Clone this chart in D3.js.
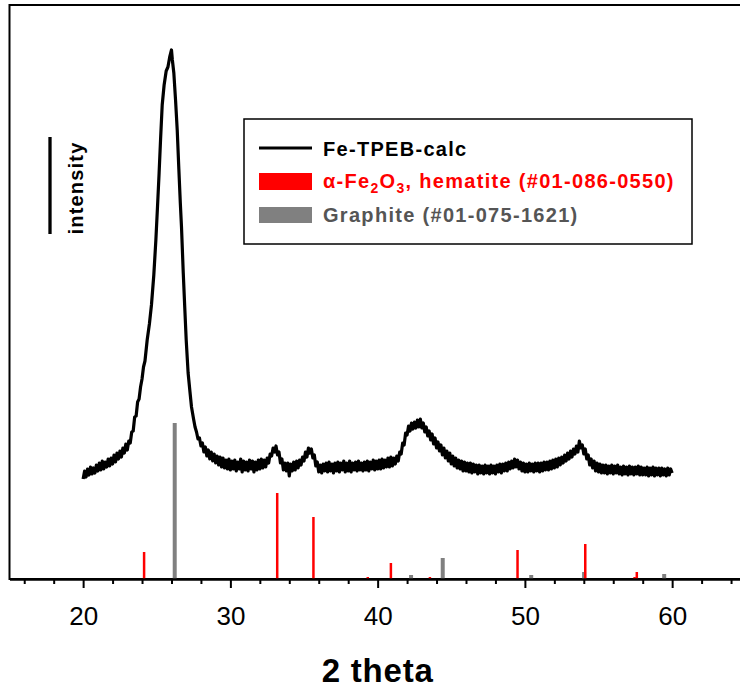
<!DOCTYPE html>
<html>
<head>
<meta charset="utf-8">
<script src="https://cdn.jsdelivr.net/npm/d3@7"></script>
<style>
  body { margin: 0; background: #fff; }
  text { font-family: "Liberation Sans", Arial, sans-serif; }
</style>
</head>
<body>
<script>
// measured pattern, 2theta vs intensity (a.u.)
var pattern = [
  [20.0,100],[20.1,108],[20.2,102],[20.3,110],[20.4,104],[20.5,112],[20.6,105],[20.7,111],[20.8,106],[20.9,114],
  [21.0,108],[21.1,116],[21.2,109],[21.3,118],[21.4,110],[21.5,117],[21.6,112],[21.7,120],[21.8,113],[21.9,121],
  [22.0,115],[22.1,124],[22.2,117],[22.3,126],[22.4,120],[22.5,128],[22.6,122],[22.7,131],[22.8,126],[22.9,135],
  [23.0,129],[23.1,138],[23.2,136],[23.3,147],[23.4,148],[23.5,162],[23.6,163],[23.7,177],[23.8,180],[23.9,192],
  [24.0,200],[24.1,212],[24.2,218],[24.35,239],[24.5,255],[24.64,274],[24.8,304],[24.94,339],[25.05,372],
  [25.16,406],[25.26,440],[25.37,474],[25.5,494],[25.64,508],[25.76,512],[25.88,522],[26.0,529],[26.06,519],
  [26.16,506],[26.28,478],[26.39,449],[26.5,410],[26.6,376],[26.68,352],[26.8,306],[26.9,272],[27.0,239],
  [27.13,206],[27.25,188],[27.36,172],[27.5,160],[27.6,152],[27.7,147],[27.8,140],[27.9,141],
  [28.0,133],[28.1,136],[28.2,127],[28.3,132],[28.4,123],[28.5,129],[28.6,120],[28.7,127],[28.8,118],[28.9,125],
  [29.0,116],[29.1,123],[29.2,114],[29.3,122],[29.4,112],[29.5,121],[29.6,111],[29.7,119],[29.8,110],[29.9,120],
  [30.0,109],[30.1,118],[30.2,110],[30.3,119],[30.4,108],[30.5,117],[30.6,110],[30.7,120],[30.8,107],[30.9,118],
  [31.0,109],[31.1,117],[31.2,108],[31.3,119],[31.4,110],[31.5,118],[31.6,107],[31.7,117],[31.8,109],[31.9,119],
  [32.0,110],[32.1,120],[32.2,111],[32.3,119],[32.4,112],[32.5,121],[32.6,116],[32.7,125],[32.8,123],[32.9,131],
  [33.0,127],[33.1,133],[33.2,124],[33.3,127],[33.4,116],[33.5,120],[33.6,109],[33.7,116],[33.8,108],[33.9,116],
  [34.0,103],[34.1,115],[34.2,108],[34.3,117],[34.4,109],[34.5,118],[34.6,111],[34.7,119],[34.8,114],[34.9,122],
  [35.0,118],[35.1,127],[35.2,122],[35.3,131],[35.4,126],[35.5,130],[35.6,121],[35.7,124],[35.8,113],[35.9,117],
  [36.0,107],[36.1,114],[36.2,106],[36.3,115],[36.4,108],[36.5,116],[36.6,107],[36.7,117],[36.8,108],[36.9,115],
  [37.0,106],[37.1,116],[37.2,108],[37.3,117],[37.4,107],[37.5,116],[37.6,109],[37.7,118],[37.8,107],[37.9,116],
  [38.0,108],[38.1,118],[38.2,107],[38.3,116],[38.4,109],[38.5,117],[38.6,108],[38.7,118],[38.8,109],[38.9,116],
  [39.0,108],[39.1,117],[39.2,109],[39.3,118],[39.4,108],[39.5,117],[39.6,110],[39.7,119],[39.8,109],[39.9,118],
  [40.0,110],[40.1,119],[40.2,110],[40.3,120],[40.4,111],[40.5,119],[40.6,112],[40.7,121],[40.8,112],[40.9,122],
  [41.0,113],[41.1,121],[41.2,115],[41.3,123],[41.4,118],[41.5,127],[41.6,125],[41.7,136],[41.8,134],[41.9,146],
  [42.0,144],[42.1,153],[42.2,148],[42.3,156],[42.4,150],[42.5,157],[42.6,151],[42.7,159],[42.8,152],[42.9,160],
  [43.0,151],[43.1,156],[43.2,147],[43.3,152],[43.4,143],[43.5,148],[43.6,139],[43.7,145],[43.8,135],[43.9,141],
  [44.0,131],[44.1,137],[44.2,128],[44.3,134],[44.4,124],[44.5,131],[44.6,121],[44.7,128],[44.8,118],[44.9,126],
  [45.0,115],[45.1,123],[45.2,113],[45.3,121],[45.4,111],[45.5,119],[45.6,110],[45.7,118],[45.8,108],[45.9,117],
  [46.0,108],[46.1,116],[46.2,107],[46.3,116],[46.4,106],[46.5,115],[46.6,107],[46.7,114],[46.8,105],[46.9,114],
  [47.0,106],[47.1,113],[47.2,105],[47.3,114],[47.4,106],[47.5,113],[47.6,105],[47.7,114],[47.8,106],[47.9,113],
  [48.0,105],[48.1,114],[48.2,107],[48.3,115],[48.4,106],[48.5,115],[48.6,108],[48.7,116],[48.8,108],[48.9,117],
  [49.0,110],[49.1,118],[49.2,111],[49.3,120],[49.4,112],[49.5,119],[49.6,110],[49.7,117],[49.8,108],[49.9,116],
  [50.0,107],[50.1,115],[50.2,107],[50.3,116],[50.4,108],[50.5,115],[50.6,107],[50.7,116],[50.8,108],[50.9,116],
  [51.0,107],[51.1,116],[51.2,108],[51.3,117],[51.4,109],[51.5,117],[51.6,109],[51.7,118],[51.8,110],[51.9,119],
  [52.0,111],[52.1,120],[52.2,112],[52.3,121],[52.4,114],[52.5,122],[52.6,116],[52.7,124],[52.8,118],[52.9,126],
  [53.0,120],[53.1,128],[53.2,122],[53.3,130],[53.4,125],[53.5,133],[53.6,127],[53.7,138],[53.8,131],[53.9,134],
  [54.0,125],[54.1,130],[54.2,120],[54.3,124],[54.4,114],[54.5,120],[54.6,111],[54.7,118],[54.8,108],[54.9,116],
  [55.0,107],[55.1,115],[55.2,106],[55.3,114],[55.4,106],[55.5,114],[55.6,105],[55.7,113],[55.8,106],[55.9,114],
  [56.0,105],[56.1,113],[56.2,106],[56.3,114],[56.4,105],[56.5,112],[56.6,104],[56.7,113],[56.8,105],[56.9,112],
  [57.0,104],[57.1,113],[57.2,105],[57.3,112],[57.4,104],[57.5,112],[57.6,105],[57.7,113],[57.8,104],[57.9,112],
  [58.0,104],[58.1,111],[58.2,104],[58.3,112],[58.4,103],[58.5,111],[58.6,104],[58.7,112],[58.8,103],[58.9,111],
  [59.0,104],[59.1,111],[59.2,103],[59.3,111],[59.4,104],[59.5,110],[59.6,103],[59.7,111],[59.8,104],[59.9,110],
  [60.0,106]
];

// reference sticks (position, intensity)
var hematite = [[24.14,27],[33.18,86],[35.64,62],[39.33,2],[40.9,16],[43.55,2],[49.5,29],[54.1,35],[57.45,2],[57.6,7]];
var graphite = [[26.22,156],[42.27,4],[44.42,21],[50.43,4],[54.02,7],[59.46,5]];

var majorTicks = [20, 30, 40, 50, 60];
var minorTicks = [16, 18, 22, 24, 26, 28, 32, 34, 36, 38, 42, 44, 46, 48, 52, 54, 56, 58, 62, 64];

var legendItems = ["Fe-TPEB-calc", "hematite", "Graphite (#01-075-1621)"];

var width = 740, height = 688;
var svg = d3.select("body").append("svg")
    .attr("width", width)
    .attr("height", height);

var x = d3.scaleLinear().domain([15, 66]).range([9.5, 760.5]);
var y = d3.scaleLinear().domain([0, 574]).range([579, 5]);

// frame
svg.append("rect")
    .attr("x", x(15)).attr("y", y(574))
    .attr("width", x(66) - x(15)).attr("height", y(0) - y(574))
    .attr("fill", "none")
    .attr("stroke", "#000")
    .attr("stroke-width", 2);

// sticks
svg.selectAll(".graphite")
    .data(graphite)
    .enter().append("line")
    .attr("x1", d => x(d[0])).attr("x2", d => x(d[0]))
    .attr("y1", y(0)).attr("y2", d => y(d[1]))
    .attr("stroke", "#808080")
    .attr("stroke-width", 4);

svg.selectAll(".hematite")
    .data(hematite)
    .enter().append("line")
    .attr("x1", d => x(d[0])).attr("x2", d => x(d[0]))
    .attr("y1", y(0)).attr("y2", d => y(d[1]))
    .attr("stroke", "#ff0000")
    .attr("stroke-width", 2.5);

// pattern
var line = d3.line().x(d => x(d[0])).y(d => y(d[1]));
svg.append("path")
    .datum(pattern)
    .attr("d", line)
    .attr("fill", "none")
    .attr("stroke", "#000")
    .attr("stroke-width", 3.2)
    .attr("stroke-linejoin", "round");

// x axis
var minorAxis = d3.axisBottom(x).tickValues(minorTicks).tickSize(5).tickFormat("").tickSizeOuter(0);
svg.append("g")
    .attr("transform", "translate(0," + y(0) + ")")
    .call(minorAxis)
    .call(g => g.select(".domain").remove())
    .selectAll("line").attr("stroke-width", 2);

var majorAxis = d3.axisBottom(x).tickValues(majorTicks).tickSize(9).tickPadding(19).tickSizeOuter(0);
var gx = svg.append("g")
    .attr("transform", "translate(0," + y(0) + ")")
    .call(majorAxis);
gx.select(".domain").attr("stroke-width", 2.5);
gx.selectAll("line").attr("stroke-width", 2);
gx.selectAll("text")
    .attr("font-size", 26)
    .attr("font-family", "'Liberation Sans', Arial, sans-serif")
    .attr("fill", "#000");

svg.append("text")
    .attr("x", x(40))
    .attr("y", 682)
    .attr("text-anchor", "middle")
    .attr("font-size", 33)
    .attr("font-weight", "bold")
    .style("letter-spacing", "0.8px")
    .text("2 theta");

// intensity scale bar
svg.append("line")
    .attr("x1", 50).attr("x2", 50)
    .attr("y1", 137).attr("y2", 234)
    .attr("stroke", "#000")
    .attr("stroke-width", 3.3);

svg.append("text")
    .attr("transform", "translate(83,188) rotate(-90)")
    .attr("text-anchor", "middle")
    .attr("font-size", 20)
    .attr("font-weight", "bold")
    .style("letter-spacing", "1.2px")
    .text("intensity");

// legend
var lg = svg.append("g");
lg.append("rect")
    .attr("x", 244).attr("y", 119)
    .attr("width", 448).attr("height", 125)
    .attr("fill", "#fff")
    .attr("stroke", "#000")
    .attr("stroke-width", 1.5);

lg.append("line")
    .attr("x1", 259).attr("x2", 312)
    .attr("y1", 148).attr("y2", 148)
    .attr("stroke", "#000").attr("stroke-width", 3);
lg.append("rect")
    .attr("x", 259).attr("y", 173).attr("width", 53).attr("height", 17)
    .attr("fill", "#ff0000");
lg.append("rect")
    .attr("x", 259).attr("y", 207).attr("width", 53).attr("height", 16)
    .attr("fill", "#808080");

function legendText(yy, color) {
    return lg.append("text")
        .attr("x", 323).attr("y", yy)
        .attr("font-size", 20)
        .attr("font-weight", "bold")
        .style("letter-spacing", "1.3px")
        .attr("fill", color);
}

legendText(155.5, "#000").text(legendItems[0]);

var t2 = legendText(187.5, "#ff0000");
t2.append("tspan").text("\u03b1-Fe");
t2.append("tspan").attr("dy", 5).attr("font-size", 14).text("2");
t2.append("tspan").attr("dy", -5).text("O");
t2.append("tspan").attr("dy", 5).attr("font-size", 14).text("3");
t2.append("tspan").attr("dy", -5).text(", " + legendItems[1] + " (#01-086-0550)");

legendText(221.5, "#555555").text(legendItems[2]);
</script>
</body>
</html>
